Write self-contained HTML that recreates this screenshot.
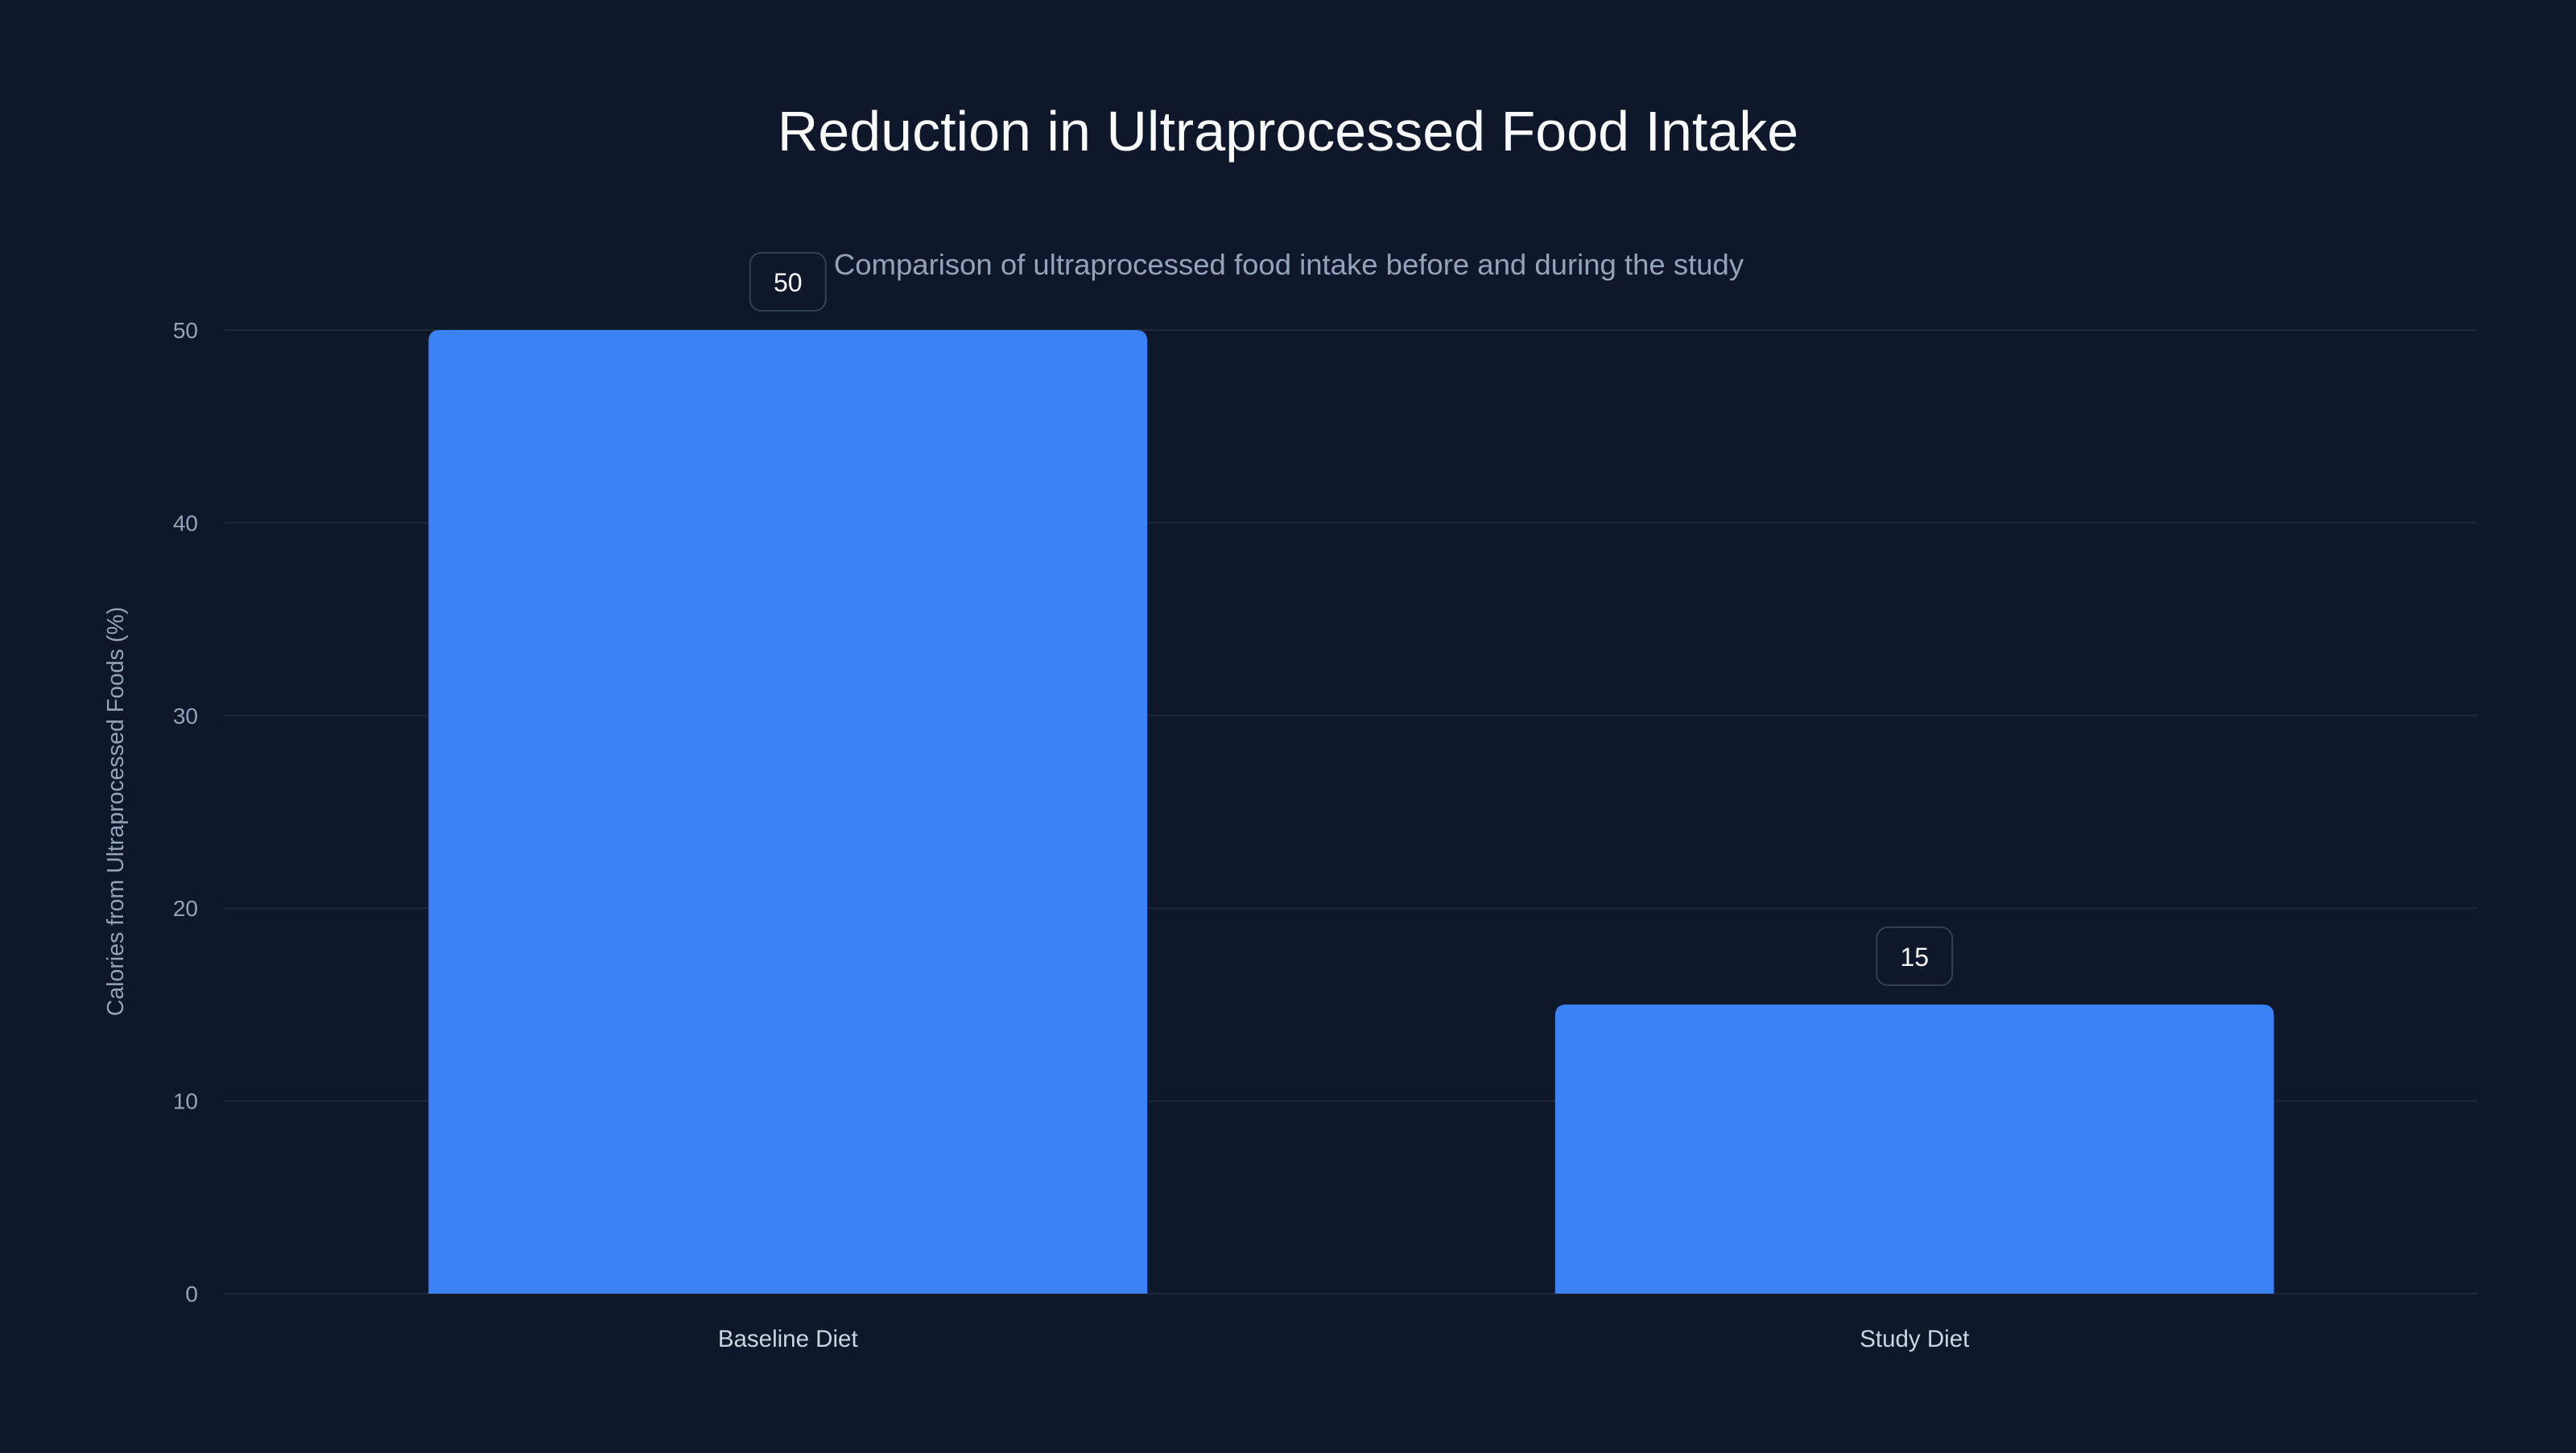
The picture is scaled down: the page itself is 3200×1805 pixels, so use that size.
<!DOCTYPE html>
<html><head><meta charset="utf-8"><style>
html,body{margin:0;padding:0;background:#0f172a;}
body{width:3200px;height:1800px;overflow:hidden;font-family:"Liberation Sans",sans-serif;}
</style></head><body>
<svg id="chart" width="3200" height="1800" xmlns="http://www.w3.org/2000/svg">
<rect width="3200" height="1800" fill="#0f172a"/>
<text x="1600" y="187" text-anchor="middle" font-size="70" fill="#f8fafc">Reduction in Ultraprocessed Food Intake</text>
<text x="1601" y="341" text-anchor="middle" font-size="36.5" fill="#94a3b8">Comparison of ultraprocessed food intake before and during the study</text>
<text transform="translate(153,1008) rotate(-90)" text-anchor="middle" font-size="28.5" fill="#94a3b8">Calories from Ultraprocessed Foods (%)</text>
<g id="grid"></g><g id="bars"></g><g id="labels"></g>
</svg>
<script>
const categories=["Baseline Diet","Study Diet"];
const values=[50,15];
const yTicks=[0,10,20,30,40,50];
const NS="http://www.w3.org/2000/svg";
const x0=279,x1=3078,y0=1607,y1=410,yMax=50;
const yScale=v=>y0-(v/yMax)*(y0-y1);
const band=(x1-x0)/categories.length;
const bw=band*0.638;
const xC=i=>x0+band*(i+0.5);
function mk(t,a,p){const e=document.createElementNS(NS,t);for(const k in a)e.setAttribute(k,a[k]);p.appendChild(e);return e;}
const grid=document.getElementById('grid'),bars=document.getElementById('bars'),labels=document.getElementById('labels');
yTicks.forEach(t=>{
  const y=yScale(t);
  const l=mk('line',{x1:x0,x2:x1,y1:y,y2:y,stroke:'#1e293b','stroke-width':2},grid);
  
  
  const tx=mk('text',{x:246,y:y+10,'text-anchor':'end','font-size':28,fill:'#94a3b8'},grid);
  tx.textContent=t;
  
  
});
categories.forEach((c,i)=>{
  const top=yScale(values[i]),left=xC(i)-bw/2,r=14;
  const p=mk('path',{d:`M${left},${y0}V${top+r}Q${left},${top} ${left+r},${top}H${left+bw-r}Q${left+bw},${top} ${left+bw},${top+r}V${y0}Z`,fill:'#3b82f6'},bars);
  
  
  const w=String(values[i]).length>1?94:72;
  const bx=mk('rect',{x:xC(i)-w/2,y:top-96,width:w,height:72,rx:14,fill:'#0f172a',stroke:'#334155','stroke-width':2},labels);
  
  
  const vt=mk('text',{x:xC(i),y:top-48,'text-anchor':'middle','font-size':32,fill:'#f8fafc'},labels);
  vt.textContent=values[i];
  
  
  const xl=mk('text',{x:xC(i),y:1673,'text-anchor':'middle','font-size':29.5,fill:'#cbd5e1'},labels);
  xl.textContent=c;
  
  
});
</script>
</body></html>
